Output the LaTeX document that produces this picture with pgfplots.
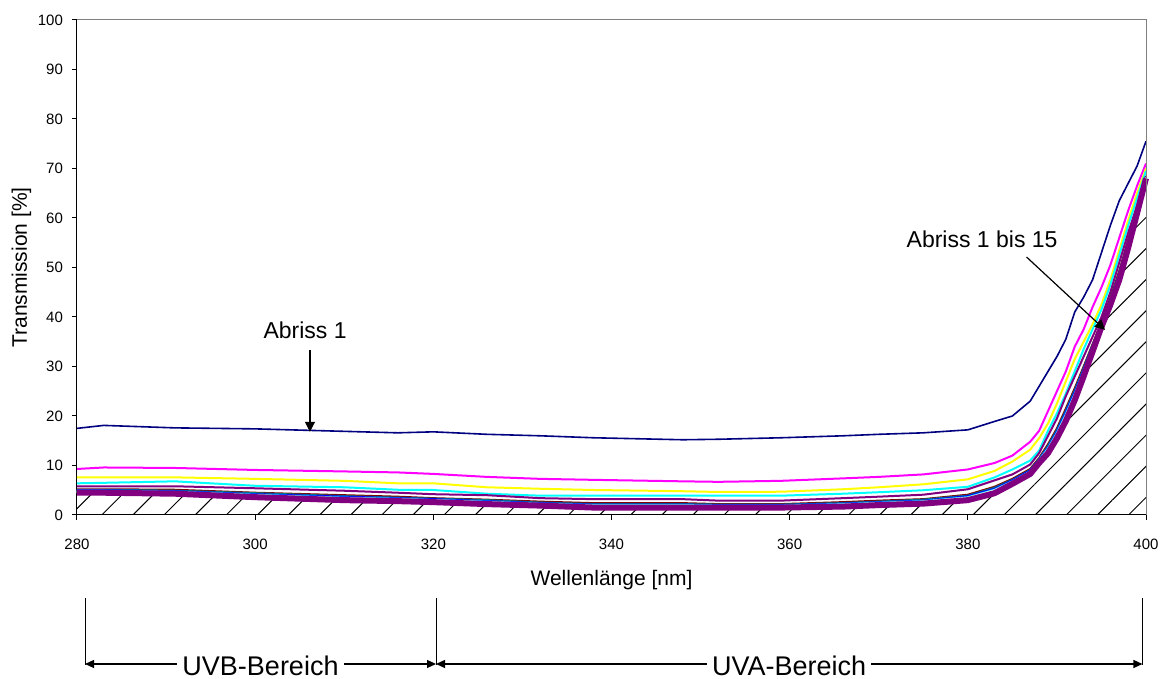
\documentclass[border=0pt]{standalone}
\usepackage{pgfplots}
\pgfplotsset{compat=1.18}
\usepackage{pgfplotstable}
\usepackage{fontspec}
\setmainfont{Liberation Sans}
\usetikzlibrary{patterns.meta,arrows.meta}

\definecolor{cnavy}{HTML}{000080}
\definecolor{cmag}{HTML}{FF00FF}
\definecolor{cyel}{HTML}{FFFF00}
\definecolor{ccyan}{HTML}{00FFFF}
\definecolor{cpurp}{HTML}{800080}
\definecolor{cdred}{HTML}{800000}
\definecolor{cteal}{HTML}{008080}
\definecolor{cblue}{HTML}{0000FF}
\definecolor{csky}{HTML}{00CCFF}
\definecolor{cltq}{HTML}{CCFFFF}
\definecolor{clgr}{HTML}{CCFFCC}
\definecolor{clye}{HTML}{FFFF99}
\definecolor{cpbl}{HTML}{99CCFF}
\definecolor{clav}{HTML}{CC99FF}

\pgfplotstableread{
x a b c d e f g h i j k l m n o
280 17.5 9.3 7.6 6.4 5.8 5.2 5.1 5.0 4.9 4.8 4.7 4.6 4.6 4.5 4.5
283 18.1 9.6 7.6 6.5 5.8 5.2 5.1 5.0 4.9 4.8 4.7 4.6 4.6 4.5 4.5
291 17.6 9.5 7.6 6.8 5.8 5.1 4.9 4.8 4.7 4.6 4.5 4.5 4.4 4.3 4.3
300 17.4 9.1 7.3 5.9 5.4 4.5 4.4 4.2 4.1 4.0 3.9 3.8 3.7 3.7 3.6
310 16.9 8.8 6.9 5.6 4.9 4.0 3.8 3.7 3.5 3.4 3.3 3.2 3.1 3.1 3.0
316 16.6 8.6 6.4 5.1 4.5 3.7 3.5 3.4 3.3 3.2 3.1 3.0 2.9 2.9 2.8
320 16.8 8.3 6.4 5.05 4.2 3.4 3.3 3.2 3.0 3.0 2.9 2.8 2.7 2.6 2.6
326 16.3 7.7 5.6 4.3 4.0 3.1 3.0 2.8 2.7 2.6 2.5 2.4 2.3 2.3 2.2
332 16.0 7.3 5.3 3.9 3.4 2.7 2.5 2.4 2.3 2.2 2.1 2.1 2.0 1.9 1.9
338 15.6 7.1 5.05 3.9 3.2 2.4 2.2 2.1 2.0 1.9 1.8 1.7 1.6 1.6 1.5
348 15.2 6.8 4.8 3.9 3.2 2.4 2.2 2.1 2.0 1.9 1.8 1.7 1.6 1.6 1.5
352 15.3 6.7 4.65 3.9 2.9 2.2 2.1 2.0 1.9 1.8 1.7 1.7 1.6 1.5 1.5
359 15.6 6.9 4.7 3.9 2.9 2.2 2.1 2.0 1.9 1.8 1.7 1.7 1.6 1.5 1.5
366 16.0 7.4 5.2 4.3 3.4 2.6 2.4 2.3 2.2 2.1 2.0 1.9 1.8 1.8 1.7
370 16.3 7.7 5.6 4.6 3.7 2.9 2.7 2.6 2.5 2.4 2.3 2.2 2.1 2.1 2.0
375 16.6 8.2 6.2 5.0 4.1 3.2 3.1 2.9 2.8 2.7 2.6 2.5 2.4 2.4 2.3
380 17.2 9.2 7.2 5.7 5.2 4.1 3.9 3.8 3.6 3.5 3.4 3.2 3.2 3.1 3.0
383 18.9 10.5 8.9 7.6 7.0 5.7 5.5 5.3 5.1 5.0 4.8 4.7 4.6 4.5 4.4
385 20.0 12.0 10.8 9.2 8.2 7.3 7.1 7.0 6.8 6.7 6.6 6.5 6.4 6.4 6.3
387 23.0 14.8 13.2 11.0 10.2 9.3 9.1 9.0 8.8 8.7 8.6 8.5 8.4 8.4 8.3
388 26.0 17.0 15.5 13.0 12.5 11.5 11.3 11.2 11.1 10.9 10.8 10.7 10.6 10.6 10.5
389 29.0 21.0 18.5 17.0 16.0 14.3 14.0 13.7 13.5 13.3 13.1 12.9 12.7 12.6 12.5
390 32.0 25.0 22.5 20.5 19.5 17.5 17.2 16.9 16.6 16.4 16.1 15.9 15.8 15.6 15.5
391 35.5 29.0 27.0 24.5 24.0 21.5 21.1 20.8 20.4 20.1 19.8 19.6 19.4 19.2 19.0
392 41.0 34.0 31.5 29.0 28.0 25.6 25.2 24.9 24.5 24.3 24.0 23.7 23.5 23.3 23.2
393 44.0 37.5 35.0 33.5 32.0 30.0 29.7 29.4 29.1 28.9 28.6 28.4 28.3 28.1 28.0
394 47.5 42.0 38.5 37.5 36.0 34.5 34.3 34.1 33.8 33.7 33.5 33.3 33.2 33.1 33.0
395 53.0 46.0 42.5 41.5 40.0 39.0 38.8 38.7 38.6 38.4 38.3 38.2 38.1 38.1 38.0
396 58.5 50.5 47.5 46.5 45.0 43.8 43.6 43.4 43.2 43.1 42.9 42.8 42.7 42.6 42.5
397 63.5 56.0 53.5 52.5 51.0 49.3 49.0 48.7 48.5 48.3 48.1 47.9 47.7 47.6 47.5
398 67.0 61.5 59.5 58.5 57.0 55.5 55.3 55.1 54.8 54.7 54.5 54.3 54.2 54.1 54.0
399 70.5 66.5 65.0 64.0 62.5 61.8 61.6 61.5 61.4 61.3 61.2 61.2 61.1 61.0 61.0
400 75.5 71.0 70.0 69.5 68.5 68.3 68.2 68.2 68.1 68.1 68.1 68.1 68.0 68.0 68.0
}\data

\begin{document}
\begin{tikzpicture}
\begin{axis}[
  name=ax,
  scale only axis, width=534.5pt, height=247.5pt,
  xmin=280, xmax=400, ymin=0, ymax=100,
  xtick={280,300,...,400}, ytick={0,10,...,100},
  axis x line*=bottom, axis y line*=left,
  axis line style={-, black, line width=0.5pt},
  tick align=outside, major tick length=2.5pt,
  tick style={black, line width=0.5pt},
  ticklabel style={font=\fontsize{7.5}{9}\selectfont},
  /pgf/number format/assume math mode=true,
  yticklabel style={xshift=-1pt},
  xticklabel style={yshift=-6pt},
  xlabel={Wellenlänge [nm]}, ylabel={Transmission [\%]},
  label style={font=\fontsize{10.5}{12}\selectfont},
  xlabel style={at={(axis description cs:0.5,-0.1434)}, anchor=base},
  ylabel style={at={(axis description cs:-0.0468,0.5)}, anchor=base},
  clip=false,
  every axis plot/.append style={line join=round, mark=none},
]
\addplot[draw=none, pattern={Lines[angle=45,distance=11pt,line width=0.5pt]}, pattern color=black] table[x=x,y=o]{\data} \closedcycle;
\addplot[color=cnavy, line width=0.8pt] table[x=x,y=a]{\data};
\addplot[color=cmag, line width=1pt] table[x=x,y=b]{\data};
\addplot[color=cyel, line width=1pt] table[x=x,y=c]{\data};
\addplot[color=ccyan, line width=1pt] table[x=x,y=d]{\data};
\addplot[color=cpurp, line width=1pt] table[x=x,y=e]{\data};
\addplot[color=cdred, line width=1pt] table[x=x,y=f]{\data};
\addplot[color=cteal, line width=1pt] table[x=x,y=g]{\data};
\addplot[color=cblue, line width=1pt] table[x=x,y=h]{\data};
\addplot[color=csky, line width=1pt] table[x=x,y=i]{\data};
\addplot[color=cltq, line width=1pt] table[x=x,y=j]{\data};
\addplot[color=clgr, line width=1pt] table[x=x,y=k]{\data};
\addplot[color=clye, line width=1pt] table[x=x,y=l]{\data};
\addplot[color=cpbl, line width=1pt] table[x=x,y=m]{\data};
\addplot[color=clav, line width=1pt] table[x=x,y=n]{\data};
\addplot[color=cpurp, line width=3pt] table[x=x,y=o]{\data};

\draw[gray, line width=0.5pt] (axis cs:280,100) -- (axis cs:400,100) -- (axis cs:400,0);

\node[font=\fontsize{11.5}{13}\selectfont, anchor=base] at (axis cs:305.6,35.7) {Abriss 1};
\draw[line width=0.6pt, -{Triangle[length=5pt,width=5pt]}] (axis cs:306.15,33.3) -- (axis cs:306.15,16.8);
\node[font=\fontsize{11.5}{13}\selectfont, anchor=base] at (axis cs:381.6,54.1) {Abriss 1 bis 15};
\draw[line width=0.6pt, -{Triangle[length=5pt,width=5pt]}] (axis cs:386.6,52.1) -- (axis cs:395.4,37.4);

\draw[line width=0.5pt] (axis cs:280.9,-16.8) -- (axis cs:280.9,-30.3);
\draw[line width=0.5pt] (axis cs:320.3,-16.8) -- (axis cs:320.3,-30.3);
\draw[line width=0.5pt] (axis cs:399.6,-16.8) -- (axis cs:399.6,-30.3);
\draw[line width=0.6pt, {Triangle[length=4.5pt,width=4pt]}-{Triangle[length=4.5pt,width=4pt]}] (axis cs:280.9,-30.1) -- (axis cs:320.3,-30.1)
  node[midway, anchor=base, yshift=-6pt, fill=white, inner xsep=2.5pt, inner ysep=0.5pt, font=\fontsize{13.5}{15}\selectfont] {UVB-Bereich};
\draw[line width=0.6pt, {Triangle[length=4.5pt,width=4pt]}-{Triangle[length=4.5pt,width=4pt]}] (axis cs:320.3,-30.1) -- (axis cs:399.6,-30.1)
  node[midway, anchor=base, yshift=-6pt, fill=white, inner xsep=2.5pt, inner ysep=0.5pt, font=\fontsize{13.5}{15}\selectfont] {UVA-Bereich};
\end{axis}
\pgfresetboundingbox
\path ([shift={(-38.5pt,-82pt)}]ax.south west) rectangle ([shift={(8.5pt,10pt)}]ax.north east);
\end{tikzpicture}
\end{document}
